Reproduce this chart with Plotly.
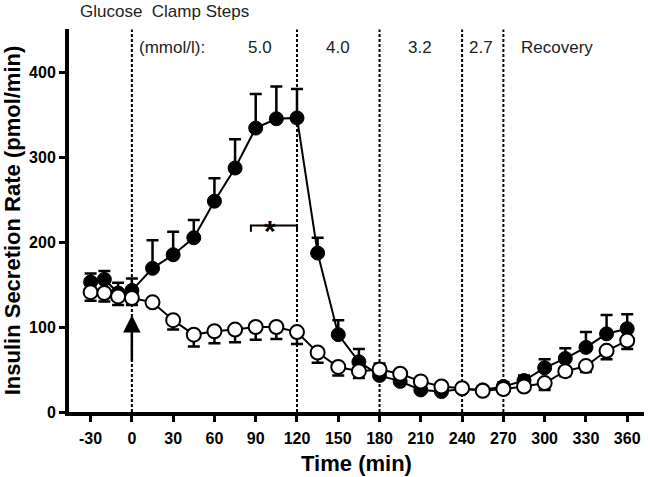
import plotly.graph_objects as go

# ---- data ----
times = [-30, -20, -10, 0, 15, 30, 45, 60, 75, 90, 105, 120, 135, 150, 165, 180,
         195, 210, 225, 240, 255, 270, 285, 300, 315, 330, 345, 360]

filled_vals = [153, 156, 140, 143, 169, 185, 205, 248, 287, 334, 345, 346, 187, 91, 59, 43,
               36, 26, 24, 27, 26, 30, 37, 52, 63, 76, 92, 98]
filled_err_up = [10, 10, 12, 14, 33, 27, 21, 27, 34, 40, 38, 34, 18, 17, 15, 14,
                 6, 5, 4, 4, 4, 5, 6, 10, 12, 18, 22, 17]

open_vals = [141, 140, 136, 134, 129, 108, 91, 95, 97, 100, 100, 94, 70, 53, 48, 50,
             45, 36, 30, 28, 25, 27, 30, 34, 48, 54, 72, 84]
open_err_down = [10, 10, 10, 8, 5, 11, 14, 14, 15, 15, 14, 14, 12, 10, 8, 6,
                 5, 4, 3, 3, 3, 3, 4, 8, 6, 7, 10, 10]

step_lines = [0, 120, 180, 240, 270]
step_labels = ["5.0", "4.0", "3.2", "2.7"]
step_label_x = [93, 150, 209.5, 254]

x_ticks = [-30, 0, 30, 60, 90, 120, 150, 180, 210, 240, 270, 300, 330, 360]
y_ticks = [0, 100, 200, 300, 400]

FONT = "Liberation Sans, Arial, sans-serif"

fig = go.Figure()

fig.add_trace(go.Scatter(
    x=times, y=filled_vals, mode="lines+markers",
    line=dict(color="black", width=2),
    marker=dict(size=14, color="black", line=dict(color="black", width=1)),
    error_y=dict(type="data", symmetric=False, array=filled_err_up,
                 arrayminus=[0] * len(times), color="black", thickness=2.5, width=6),
    showlegend=False, cliponaxis=False, hoverinfo="skip",
))
fig.add_trace(go.Scatter(
    x=times, y=open_vals, mode="lines+markers",
    line=dict(color="black", width=2),
    marker=dict(size=14, color="white", line=dict(color="black", width=2)),
    error_y=dict(type="data", symmetric=False, array=[0] * len(times),
                 arrayminus=open_err_down, color="black", thickness=2.5, width=6),
    showlegend=False, cliponaxis=False, hoverinfo="skip",
))

shapes = []
for xv in step_lines:
    shapes.append(dict(type="line", xref="x", yref="y", x0=xv, x1=xv, y0=0, y1=450,
                       line=dict(color="black", width=2, dash="3px,2px"), layer="below"))
# significance bracket
shapes.append(dict(type="path", xref="x", yref="y",
                   path="M 86.5,212 L 86.5,219.5 L 120,219.5 L 120,212",
                   line=dict(color="black", width=2)))

annotations = [
    dict(text="Glucose\u00a0 Clamp Steps", x=-39, y=1.045, xref="x", yref="paper",
         xanchor="left", yanchor="middle", showarrow=False,
         font=dict(family=FONT, size=17, color="#222")),
    dict(text="(mmol/l):", x=3.5, y=428.6, xref="x", yref="y",
         xanchor="left", yanchor="middle", showarrow=False,
         font=dict(family=FONT, size=17, color="#222")),
    dict(text="Recovery", x=281, y=428.6, xref="x", yref="y",
         xanchor="left", yanchor="middle", showarrow=False,
         font=dict(family=FONT, size=17, color="#222")),
    dict(text="<b>*</b>", x=100.5, y=214, xref="x", yref="y",
         xanchor="center", yanchor="middle", showarrow=False,
         font=dict(family=FONT, size=30, color="black")),
    dict(text="", x=0, y=114, ax=0, ay=58, xref="x", yref="y", axref="x", ayref="y",
         showarrow=True, arrowhead=2, arrowsize=1.4, arrowwidth=2.5, arrowcolor="black",
         standoff=0),
]
for lab, xv in zip(step_labels, step_label_x):
    annotations.append(dict(text=lab, x=xv, y=428.6, xref="x", yref="y",
                            xanchor="center", yanchor="middle", showarrow=False,
                            font=dict(family=FONT, size=17, color="#222")))

fig.update_layout(
    width=650, height=477,
    margin=dict(l=69, r=6, t=29, b=65, autoexpand=False),
    plot_bgcolor="white", paper_bgcolor="white",
    shapes=shapes, annotations=annotations,
    xaxis=dict(range=[-45.7, 372.2], tickvals=x_ticks, ticktext=[str(v) for v in x_ticks],
               automargin=False,
               showline=True, linewidth=4, linecolor="black", showgrid=False, zeroline=False,
               ticks="outside", ticklen=6, tickwidth=3, tickcolor="black",
               ticklabelstandoff=3,
               tickfont=dict(family=FONT, size=16, color="black", weight="bold"),
               title=dict(text="<b>Time (min)</b>", standoff=10,
                          font=dict(family=FONT, size=22, color="black"))),
    yaxis=dict(range=[0, 450.6], tickvals=y_ticks, ticktext=[str(v) for v in y_ticks],
               automargin=False,
               showline=True, linewidth=4, linecolor="black", showgrid=False, zeroline=False,
               ticks="outside", ticklen=6, tickwidth=3, tickcolor="black",
               tickfont=dict(family=FONT, size=16, color="black", weight="bold"),
               title=dict(text="<b>Insulin Secretion Rate (pmol/min)</b>", standoff=4,
                          font=dict(family=FONT, size=22, color="black"))),
)

fig.write_html("out.html", config={"displayModeBar": False},
               post_script="document.body.style.margin='0';document.body.style.overflow='hidden';")
